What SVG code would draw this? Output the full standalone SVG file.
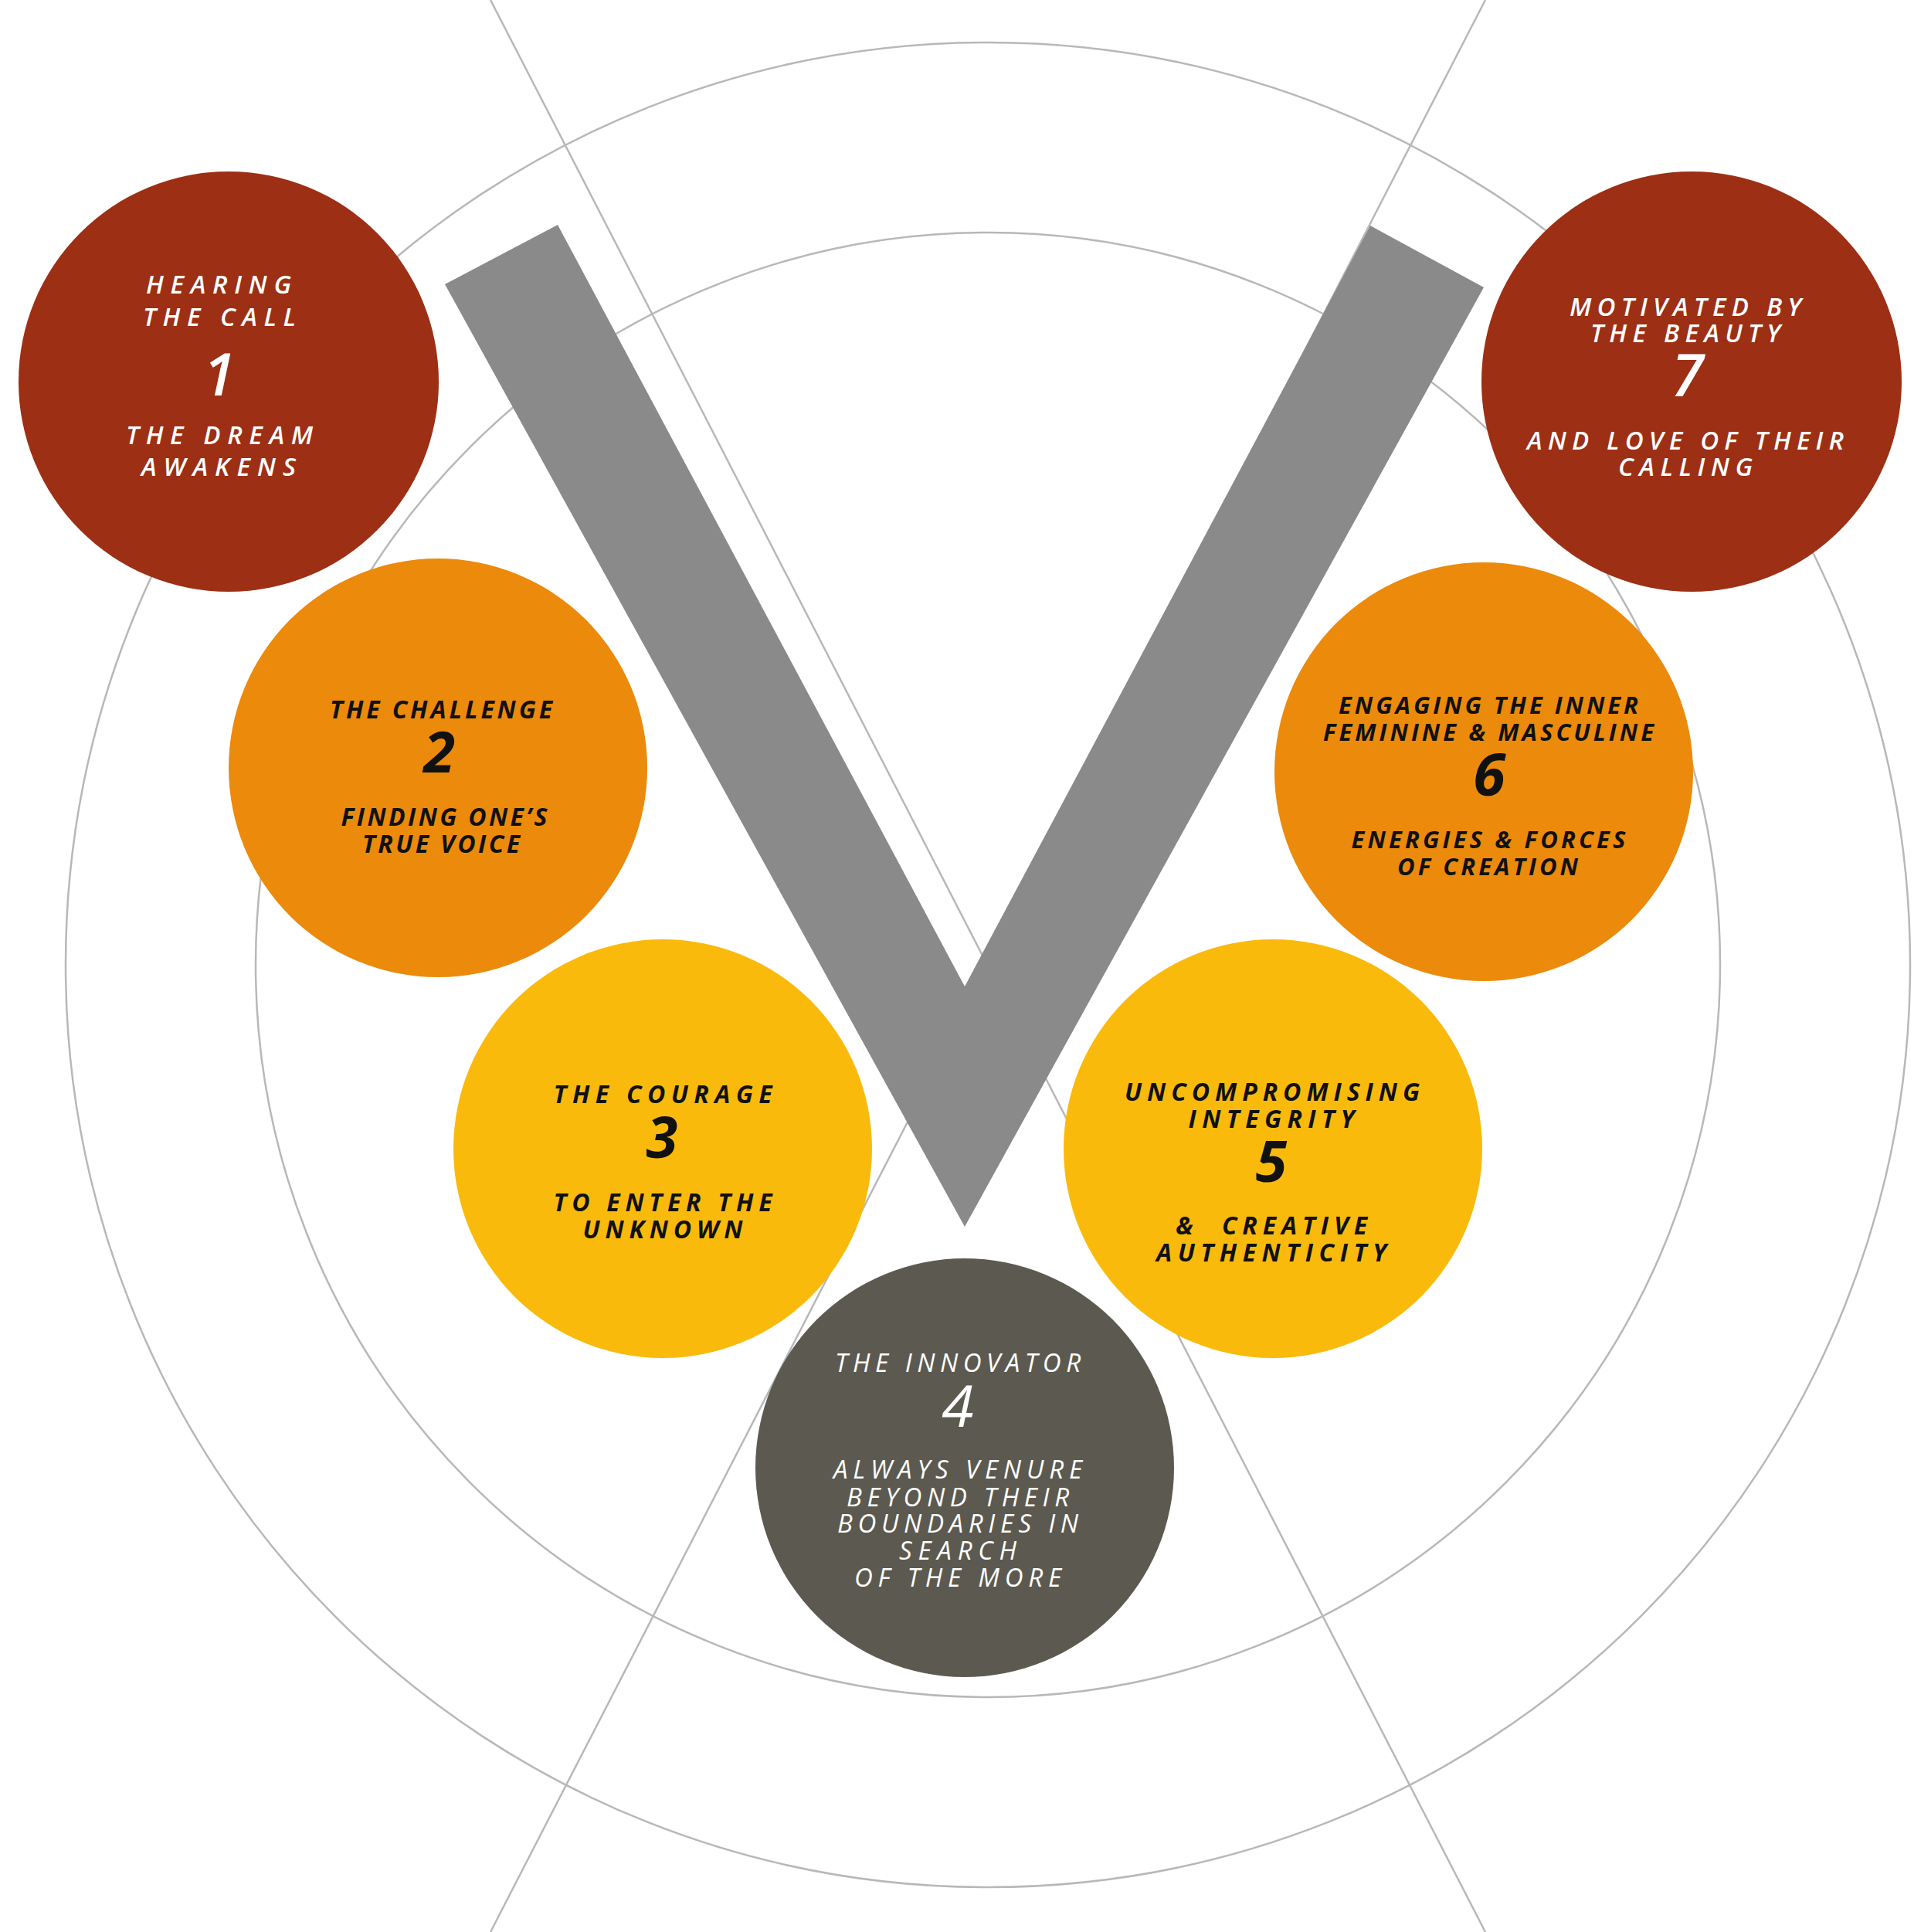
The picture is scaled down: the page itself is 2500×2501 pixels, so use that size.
<svg xmlns="http://www.w3.org/2000/svg" width="2500" height="2501" viewBox="0 0 2500 2501">
<style>
.ring{fill:none;stroke:#b8b8b8;stroke-width:2.5}
.ax{stroke:#b8b8b8;stroke-width:2.5}
text{font-family:"Open Sans","Noto Sans","Liberation Sans",sans-serif;font-style:italic;text-anchor:middle}
.w{fill:#ffffff;font-weight:600;font-size:33px}
.b{fill:#111111;font-weight:700;font-size:32px}
.l{fill:#ffffff;font-weight:400;font-size:33px}
.nw{fill:#ffffff;font-weight:600;font-size:76px}
.nb{fill:#111111;font-weight:700;font-size:74px}
.nl{fill:#ffffff;font-weight:400;font-size:75px}
.red{fill:#9c2f14}.org{fill:#eb8a0b}.yel{fill:#f9ba0c}.dk{fill:#5c5a50}
</style>
<rect width="2500" height="2501" fill="#ffffff"/>
<g id="background">
<circle class="ring" cx="1279" cy="1249" r="1194"/>
<circle class="ring" cx="1279" cy="1249" r="948"/>
<line class="ax" x1="635" y1="0" x2="1923" y2="2501"/>
<line class="ax" x1="1923" y1="0" x2="635" y2="2501"/>
</g>
<g id="v-shape">
<polygon points="576,368 722,291 1249,1277 1774,292 1921,372 1249,1588" fill="#8a8a8a"/>
</g>
<g id="node1">
<circle class="red" cx="296" cy="494" r="272"/>
<text class="w" x="283" y="380" textLength="188" lengthAdjust="spacing">HEARING</text>
<text class="w" x="284" y="422" textLength="198" lengthAdjust="spacing">THE CALL</text>
<text class="nw" x="284" y="512">1</text>
<text class="w" x="284" y="575" textLength="242" lengthAdjust="spacing">THE DREAM</text>
<text class="w" x="283" y="616" textLength="200" lengthAdjust="spacing">AWAKENS</text>
</g>
<g id="node2">
<circle class="org" cx="567" cy="994" r="271"/>
<text class="b" x="571" y="930" textLength="288" lengthAdjust="spacing">THE CHALLENGE</text>
<text class="nb" x="569" y="1000">2</text>
<text class="b" x="575" y="1069" textLength="267" lengthAdjust="spacing">FINDING ONE’S</text>
<text class="b" x="571" y="1104" textLength="204" lengthAdjust="spacing">TRUE VOICE</text>
</g>
<g id="node3">
<circle class="yel" cx="858" cy="1487" r="271"/>
<text class="b" x="858" y="1428" textLength="283" lengthAdjust="spacing">THE COURAGE</text>
<text class="nb" x="857" y="1499">3</text>
<text class="b" x="858" y="1568" textLength="283" lengthAdjust="spacing">TO ENTER THE</text>
<text class="b" x="858" y="1603" textLength="207" lengthAdjust="spacing">UNKNOWN</text>
</g>
<g id="node4">
<circle class="dk" cx="1249" cy="1900" r="271"/>
<text class="l" x="1240" y="1776" textLength="318" lengthAdjust="spacing">THE INNOVATOR</text>
<text class="nl" x="1240" y="1847">4</text>
<text class="l" x="1240" y="1914" textLength="322" lengthAdjust="spacing">ALWAYS VENURE</text>
<text class="l" x="1240" y="1950" textLength="288" lengthAdjust="spacing">BEYOND THEIR</text>
<text class="l" x="1240" y="1984" textLength="312" lengthAdjust="spacing">BOUNDARIES IN</text>
<text class="l" x="1240" y="2019" textLength="152" lengthAdjust="spacing">SEARCH</text>
<text class="l" x="1240" y="2054" textLength="268" lengthAdjust="spacing">OF THE MORE</text>
</g>
<g id="node5">
<circle class="yel" cx="1648" cy="1487" r="271"/>
<text class="b" x="1647" y="1425" textLength="382" lengthAdjust="spacing">UNCOMPROMISING</text>
<text class="b" x="1646" y="1460" textLength="215" lengthAdjust="spacing">INTEGRITY</text>
<text class="nb" x="1646" y="1530">5</text>
<text class="b" x="1646" y="1598" textLength="248" lengthAdjust="spacing" xml:space="preserve" style="white-space:pre">&amp;  CREATIVE</text>
<text class="b" x="1646" y="1633" textLength="298" lengthAdjust="spacing">AUTHENTICITY</text>
</g>
<g id="node6">
<circle class="org" cx="1921" cy="999" r="271"/>
<text class="b" style="font-size:31px" x="1927" y="924" textLength="388" lengthAdjust="spacing">ENGAGING THE INNER</text>
<text class="b" style="font-size:31px" x="1927" y="959" textLength="428" lengthAdjust="spacing">FEMININE &amp; MASCULINE</text>
<text class="nb" style="font-size:76px" x="1928" y="1030">6</text>
<text class="b" style="font-size:31px" x="1927" y="1098" textLength="355" lengthAdjust="spacing">ENERGIES &amp; FORCES</text>
<text class="b" style="font-size:31px" x="1926" y="1133" textLength="234" lengthAdjust="spacing">OF CREATION</text>
</g>
<g id="node7">
<circle class="red" cx="2190" cy="494" r="272"/>
<text class="w" x="2182" y="409" textLength="300" lengthAdjust="spacing">MOTIVATED BY</text>
<text class="w" x="2182" y="443" textLength="246" lengthAdjust="spacing">THE BEAUTY</text>
<text class="nw" x="2185" y="513">7</text>
<text class="w" x="2182" y="582" textLength="410" lengthAdjust="spacing">AND LOVE OF THEIR</text>
<text class="w" x="2182" y="616" textLength="174" lengthAdjust="spacing">CALLING</text>
</g>
</svg>
